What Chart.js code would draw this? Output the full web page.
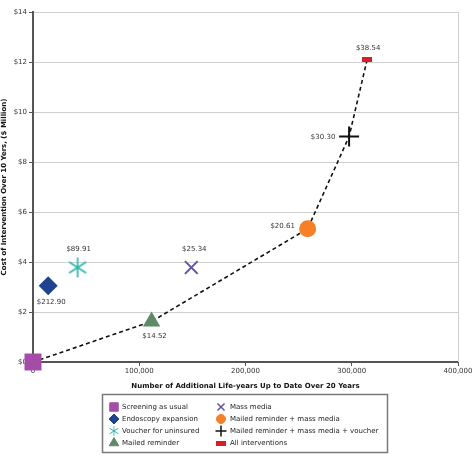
<!DOCTYPE html>
<html>
<head>
<meta charset="utf-8">
<script src="https://cdn.jsdelivr.net/npm/chart.js@4.4.1/dist/chart.umd.min.js"></script>
<style>
  html, body { margin: 0; padding: 0; background: #fff; }
  #wrap { position: relative; width: 474px; height: 456px; }
</style>
</head>
<body>
<div id="wrap"><canvas id="chart" width="474" height="456"></canvas></div>
<script>
// Data
const interventions = [
    'Screening as usual',
    'Endoscopy expansion',
    'Voucher for uninsured',
    'Mailed reminder',
    'Mass media',
    'Mailed reminder + mass media',
    'Mailed reminder + mass media + voucher',
    'All interventions'
];
const lifeYears = [0, 14300, 42000, 111600, 149000, 258500, 297500, 314500];
const costMillions = [0, 3.05, 3.78, 1.62, 3.78, 5.33, 9.02, 12.1];
const costPerLifeYear = ['', '$212.90', '$89.91', '$14.52', '$25.34', '$20.61', '$30.30', '$38.54'];
const frontier = [0, 3, 5, 6, 7]; // indices joined by the dashed line
const xTicks = [0, 100000, 200000, 300000, 400000];
const yTicks = [0, 2, 4, 6, 8, 10, 12, 14];

const FONT = 'DejaVu Sans, Verdana, sans-serif';

// custom marker images
function asterisk(color) {
    const c = document.createElement('canvas');
    c.width = 20; c.height = 22;
    const g = c.getContext('2d');
    g.strokeStyle = color;
    g.lineWidth = 1.6;
    g.beginPath();
    g.moveTo(10, 1); g.lineTo(10, 21);
    g.moveTo(1.5, 5.5); g.lineTo(18.5, 16.5);
    g.moveTo(18.5, 5.5); g.lineTo(1.5, 16.5);
    g.stroke();
    return c;
}
function flatRect(color) {
    const c = document.createElement('canvas');
    c.width = 10; c.height = 5;
    const g = c.getContext('2d');
    g.fillStyle = color;
    g.fillRect(0, 0, 10, 5);
    return c;
}

const styles = [
    { pointStyle: 'rect', radius: 12, color: '#a34ca8' },
    { pointStyle: 'rectRot', radius: 9.5, color: '#1f4391' },
    { pointStyle: asterisk('#2fb5aa'), radius: 10, color: '#2fb5aa' },
    { pointStyle: 'triangle', radius: 10, color: '#5e8a68' },
    { pointStyle: 'crossRot', radius: 9, color: '#6550a8', border: 2 },
    { pointStyle: 'circle', radius: 8.5, color: '#f58025' },
    { pointStyle: 'cross', radius: 10, color: '#111111', border: 2 },
    { pointStyle: flatRect('#d3202a'), radius: 6, color: '#d3202a' }
];

// label offsets (dx, dy) relative to each point
const labelOffsets = [[0, 0], [3, 16], [1, -18], [3, 15], [3, -18], [-25, -3], [-26, 1], [1, -11]];

const frontierData = frontier.map(i => ({ x: lifeYears[i], y: costMillions[i] }));

const datasets = [{
    type: 'line',
    label: 'frontier',
    data: frontierData,
    borderColor: '#111',
    borderWidth: 1.6,
    borderDash: [4, 3],
    pointRadius: 0,
    fill: false,
    tension: 0,
    order: 2
}].concat(interventions.map((name, i) => ({
    type: 'scatter',
    label: name,
    data: [{ x: lifeYears[i], y: costMillions[i] }],
    pointStyle: styles[i].pointStyle,
    pointRadius: styles[i].radius,
    pointHoverRadius: styles[i].radius,
    backgroundColor: styles[i].color,
    borderColor: styles[i].color,
    borderWidth: styles[i].border || 0,
    clip: false,
    order: 1
})));

const framePlugin = {
    id: 'frame',
    beforeDatasetsDraw(chart) {
        const { ctx, chartArea: a } = chart;
        ctx.save();
        ctx.strokeStyle = '#cfcfcf';
        ctx.lineWidth = 1;
        ctx.beginPath();
        ctx.moveTo(a.right + 0.5, a.top);
        ctx.lineTo(a.right + 0.5, a.bottom);
        ctx.stroke();
        ctx.restore();
    }
};

const labelPlugin = {
    id: 'pointLabels',
    afterDatasetsDraw(chart) {
        const ctx = chart.ctx;
        ctx.save();
        ctx.font = '7px ' + FONT;
        ctx.fillStyle = '#333';
        ctx.textAlign = 'center';
        ctx.textBaseline = 'middle';
        interventions.forEach((name, i) => {
            if (!costPerLifeYear[i]) return;
            const el = chart.getDatasetMeta(i + 1).data[0];
            ctx.fillText(costPerLifeYear[i], el.x + labelOffsets[i][0], el.y + labelOffsets[i][1]);
        });
        ctx.restore();
    }
};

// boxed two-column legend under the chart
const legendPlugin = {
    id: 'boxLegend',
    afterDraw(chart) {
        const ctx = chart.ctx;
        const box = { x: 102.5, y: 394.5, w: 285, h: 58 };
        ctx.save();
        ctx.fillStyle = '#fff';
        ctx.fillRect(box.x, box.y, box.w, box.h);
        ctx.strokeStyle = '#7a7a7a';
        ctx.lineWidth = 1.5;
        ctx.strokeRect(box.x, box.y, box.w, box.h);
        ctx.font = '7px ' + FONT;
        ctx.textBaseline = 'middle';
        ctx.textAlign = 'left';
        interventions.forEach((name, i) => {
            const col = Math.floor(i / 4), row = i % 4;
            const ix = col === 0 ? 114 : 221;
            const iy = 407 + row * 12;
            const ds = chart.data.datasets[i + 1];
            ctx.fillStyle = ds.backgroundColor;
            ctx.strokeStyle = ds.borderColor;
            ctx.lineWidth = ds.borderWidth ? 1.5 : 1;
            if (typeof ds.pointStyle !== 'string') {
                const img = ds.pointStyle;
                const sc = i === 2 ? 0.5 : 1;
                ctx.drawImage(img, ix - img.width * sc / 2, iy - img.height * sc / 2, img.width * sc, img.height * sc);
            } else {
                const rad = { rect: 6, rectRot: 5, triangle: 5.5, crossRot: 5, circle: 4.5, cross: 5.5 }[ds.pointStyle] || 5;
                Chart.helpers.drawPoint(ctx, { pointStyle: ds.pointStyle, radius: rad, rotation: 0, borderWidth: ctx.lineWidth }, ix, iy);
            }
            ctx.fillStyle = '#222';
            ctx.fillText(name, col === 0 ? 122 : 230, iy);
        });
        ctx.restore();
    }
};

new Chart(document.getElementById('chart'), {
    type: 'scatter',
    data: { datasets: datasets },
    options: {
        responsive: false,
        animation: false,
        events: [],
        layout: { padding: { top: 5, right: 16, bottom: 66, left: 0 } },
        plugins: {
            legend: { display: false },
            tooltip: { enabled: false }
        },
        scales: {
            x: {
                type: 'linear',
                min: 0,
                max: 400000,
                afterBuildTicks: s => { s.ticks = xTicks.map(v => ({ value: v })); },
                afterFit: s => { s.height = 28; },
                ticks: {
                    font: { family: FONT, size: 7 },
                    color: '#333',
                    padding: 1,
                    maxRotation: 0,
                    callback: v => v.toLocaleString('en-US')
                },
                grid: { drawOnChartArea: false, drawTicks: true, tickLength: 4, color: '#555' },
                border: { color: '#555', width: 2 },
                title: {
                    display: true,
                    text: 'Number of Additional Life-years Up to Date Over 20 Years',
                    font: { family: FONT, size: 7, weight: 'bold' },
                    color: '#111',
                    padding: { top: 2, bottom: 0 }
                }
            },
            y: {
                min: 0,
                max: 14,
                afterBuildTicks: s => { s.ticks = yTicks.map(v => ({ value: v })); },
                afterFit: s => { s.width = 33; },
                ticks: {
                    font: { family: FONT, size: 7 },
                    color: '#333',
                    padding: 2,
                    callback: v => '$' + v
                },
                grid: { color: '#d0d0d0', lineWidth: 1, tickLength: 4, tickColor: '#555' },
                border: { color: '#555', width: 2 },
                title: {
                    display: true,
                    text: 'Cost of Intervention Over 10 Yers, ($ Million)',
                    font: { family: FONT, size: 7, weight: 'bold' },
                    color: '#111',
                    padding: { top: 0, bottom: 1 }
                }
            }
        }
    },
    plugins: [framePlugin, labelPlugin, legendPlugin]
});
</script>
</body>
</html>
